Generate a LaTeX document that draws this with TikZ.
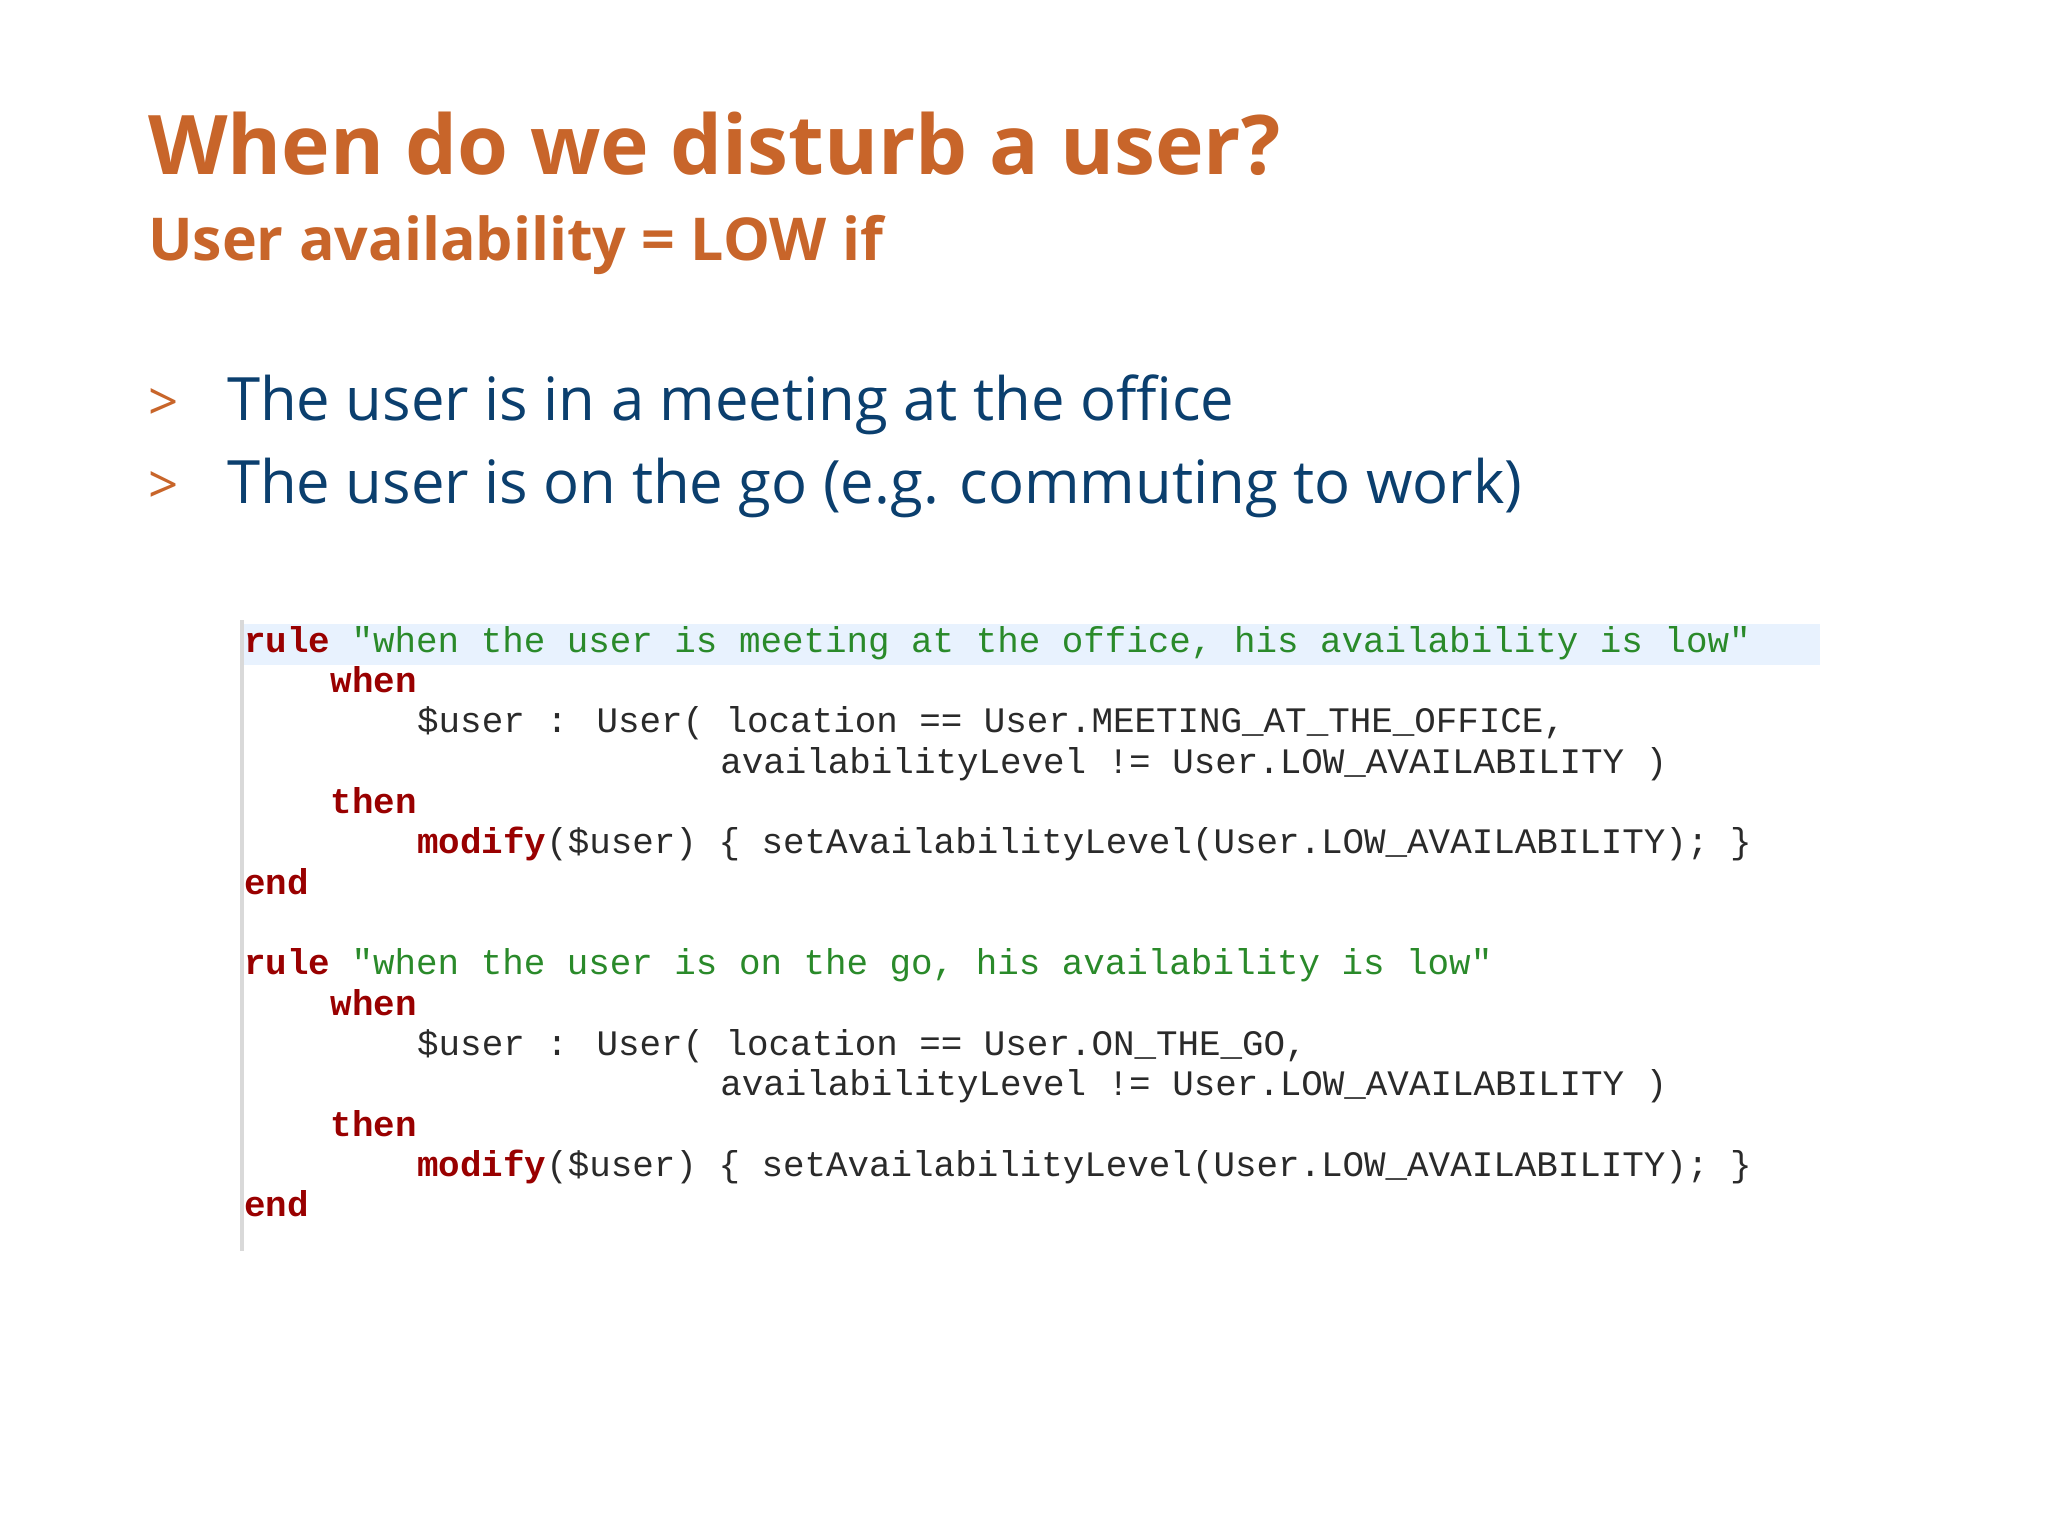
\documentclass[tikz,border=0pt]{standalone}
\usepackage{fontspec}
\setmainfont{Open Sans}
\newfontfamily\codef{Liberation Mono}
\definecolor{orng}{HTML}{C8652A}
\definecolor{dblue}{HTML}{0B3F6E}
\definecolor{kw}{HTML}{990000}
\definecolor{str}{HTML}{2A8A2A}
\definecolor{hl}{HTML}{E8F2FE}
\definecolor{codec}{HTML}{2A2A2A}
\tikzset{
  txt/.style={anchor=base west,inner sep=0pt,outer sep=0pt},
  code/.style={txt,font=\codef\fontsize{10.2pt}{12pt}\selectfont,text=codec},
}
\newcommand{\kwd}[1]{\textcolor{kw}{\bfseries #1}}
\newcommand{\strg}[1]{\textcolor{str}{#1}}
\begin{document}
\begin{tikzpicture}[x=0.01cm,y=-0.01cm]
\useasboundingbox (0,0) rectangle (2048,1536);
\fill[white] (0,0) rectangle (2048,1536);
\node[txt,text=orng,font=\bfseries\fontsize{23.4pt}{28pt}\selectfont] (title) at (148,174) {When do we disturb a user?};
\node[txt,text=orng,font=\bfseries\fontsize{16.8pt}{20pt}\selectfont] (sub) at (148,260) {User availability = LOW if};
\node[txt,text=orng,font=\fontsize{15pt}{18pt}\selectfont] (b1) at (148,420) {>};
\node[txt,text=dblue,font=\fontsize{17pt}{21pt}\selectfont] (t1) at (227,420) {The user is in a meeting at the office};
\node[txt,text=orng,font=\fontsize{15pt}{18pt}\selectfont] (b2) at (148,503) {>};
\node[txt,text=dblue,font=\fontsize{17pt}{21pt}\selectfont] (t2) at (227,503) {The user is on the go (e.g. commuting to work)};
\fill[hl] (242,624) rectangle (1820,665);
\draw[black!15,line width=1.2pt] (242,620) -- (242,1251);
\foreach \r/\c/\t in {
 0/0/{\kwd{rule} \strg{"when the user is meeting at the office, his availability is low"}},
 1/4/{\kwd{when}},
 2/8/{\$user : User( location == User.MEETING\_AT\_THE\_OFFICE,},
 3/22/{availabilityLevel != User.LOW\_AVAILABILITY )},
 4/4/{\kwd{then}},
 5/8/{\kwd{modify}(\$user) \{ setAvailabilityLevel(User.LOW\_AVAILABILITY); \}},
 6/0/{\kwd{end}},
 8/0/{\kwd{rule} \strg{"when the user is on the go, his availability is low"}},
 9/4/{\kwd{when}},
 10/8/{\$user : User( location == User.ON\_THE\_GO,},
 11/22/{availabilityLevel != User.LOW\_AVAILABILITY )},
 12/4/{\kwd{then}},
 13/8/{\kwd{modify}(\$user) \{ setAvailabilityLevel(User.LOW\_AVAILABILITY); \}},
 14/0/{\kwd{end}}}
 \node[code] (c\r) at ({244+\c*21.65},{652+\r*40.35}) {\t};
\end{tikzpicture}
\end{document}
